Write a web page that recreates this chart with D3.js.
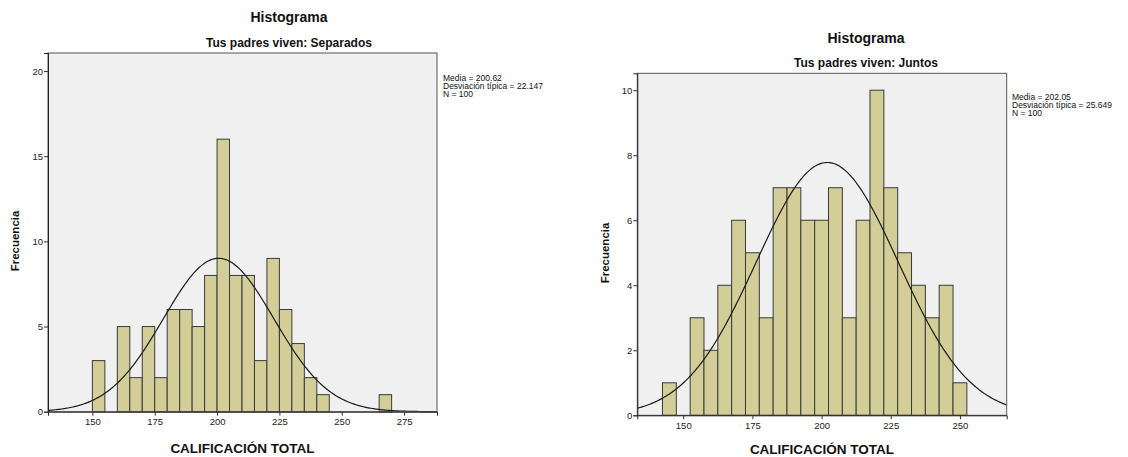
<!DOCTYPE html>
<html lang="es">
<head>
<meta charset="UTF-8">
<title>Histogramas - Calificación total</title>
<script src="https://cdn.jsdelivr.net/npm/d3@7"></script>
<style>
  body { margin: 0; background: #fff; }
  svg { display: block; font-family: "Liberation Sans", Arial, sans-serif; }
  .tick text { font-size: 9.5px; fill: #222; }
  .tick line { stroke: #333; }
</style>
</head>
<body>
<div id="chart"></div>
<script>
// Tus padres viven: Separados (bins de 5, borde inferior)
var sepBins   = [150,155,160,165,170,175,180,185,190,195,200,205,210,215,220,225,230,235,240,245,250,255,260,265];
var sepCounts = [3,  0,  5,  2,  5,  2,  6,  6,  5,  8,  16, 8,  8,  3,  9,  6,  4,  2,  1,  0,  0,  0,  0,  1];
var sepStats  = { media: 200.62, sd: 22.147, n: 100 };
var sepXTicks = [150,175,200,225,250,275];
var sepYTicks = [0,5,10,15,20];

// Tus padres viven: Juntos (bins de 5 centrados en múltiplos de 5)
var junBins   = [142.5,147.5,152.5,157.5,162.5,167.5,172.5,177.5,182.5,187.5,192.5,197.5,202.5,207.5,212.5,217.5,222.5,227.5,232.5,237.5,242.5,247.5];
var junCounts = [1,    0,    3,    2,    4,    6,    5,    3,    7,    7,    6,    6,    7,    3,    6,    10,   7,    5,    4,    3,    4,    1];
var junStats  = { media: 202.05, sd: 25.649, n: 100 };
var junXTicks = [150,175,200,225,250];
var junYTicks = [0,2,4,6,8,10];

var binWidth = 5;

var W = 1128, H = 457;
var svg = d3.select("#chart").append("svg").attr("width", W).attr("height", H);

var panels = [
  { sub: "Tus padres viven: Separados", bins: sepBins, counts: sepCounts, stats: sepStats,
    xt: sepXTicks, yt: sepYTicks, xdom: [132.2, 288.2], ydom: [0, 21.06],
    left: 48, top: 53, right: 437, bottom: 411.7,
    titleX: 289, titleY: 22, subY: 47, legX: 443, legY: 81, ylabX: 19, ylabY: 241, xlabY: 453 },
  { sub: "Tus padres viven: Juntos", bins: junBins, counts: junCounts, stats: junStats,
    xt: junXTicks, yt: junYTicks, xdom: [133.4, 266.9], ydom: [0, 10.52],
    left: 637.3, top: 73.3, right: 1006.7, bottom: 415.3,
    titleX: 866, titleY: 43, subY: 67, legX: 1012, legY: 100, ylabX: 609, ylabY: 253, xlabY: 454 }
];

panels.forEach(function(p) {
  var x = d3.scaleLinear().domain(p.xdom).range([p.left, p.right]);
  var y = d3.scaleLinear().domain(p.ydom).range([p.bottom, p.top]);
  var g = svg.append("g");

  // fondo del área de trazado
  g.append("rect")
    .attr("x", p.left).attr("y", p.top)
    .attr("width", p.right - p.left).attr("height", p.bottom - p.top)
    .attr("fill", "#f0f0f0");

  // barras
  g.append("g").selectAll("rect")
    .data(p.bins.map(function(b, i) { return { x0: b, x1: b + binWidth, n: p.counts[i] }; })
      .filter(function(d) { return d.n > 0; }))
    .enter().append("rect")
    .attr("x", function(d) { return x(d.x0); })
    .attr("y", function(d) { return y(d.n); })
    .attr("width", function(d) { return x(d.x1) - x(d.x0); })
    .attr("height", function(d) { return y(0) - y(d.n); })
    .attr("fill", "#d3ce97")
    .attr("stroke", "#3a3a3a")
    .attr("stroke-width", 1);

  // curva normal
  var k = p.stats.n * binWidth / (p.stats.sd * Math.sqrt(2 * Math.PI));
  var pts = d3.range(p.xdom[0], p.xdom[1] + 0.25, 0.5).map(function(v) {
    var z = (v - p.stats.media) / p.stats.sd;
    return [x(v), y(k * Math.exp(-0.5 * z * z))];
  });
  g.append("path")
    .attr("d", d3.line()(pts))
    .attr("fill", "none")
    .attr("stroke", "#1a1a1a")
    .attr("stroke-width", 1.2);

  // marco
  g.append("rect")
    .attr("x", p.left).attr("y", p.top)
    .attr("width", p.right - p.left).attr("height", p.bottom - p.top)
    .attr("fill", "none").attr("stroke", "#555").attr("stroke-width", 1);

  // ejes
  var ax = g.append("g").attr("transform", "translate(0," + p.bottom + ")")
    .call(d3.axisBottom(x).tickValues(p.xt).tickSize(4).tickPadding(3));
  ax.select(".domain").attr("stroke", "#222");
  var ay = g.append("g").attr("transform", "translate(" + p.left + ",0)")
    .call(d3.axisLeft(y).tickValues(p.yt).tickSize(4).tickPadding(1));
  ay.select(".domain").attr("stroke", "#222");

  // títulos
  g.append("text").attr("x", p.titleX).attr("y", p.titleY)
    .attr("text-anchor", "middle").attr("font-size", 14).attr("font-weight", "bold")
    .attr("fill", "#111").text("Histograma");
  g.append("text").attr("x", p.titleX).attr("y", p.subY)
    .attr("text-anchor", "middle").attr("font-size", 12).attr("font-weight", "bold")
    .attr("fill", "#111").text(p.sub);

  g.append("text").attr("x", (p.left + p.right) / 2).attr("y", p.xlabY)
    .attr("text-anchor", "middle").attr("font-size", 13.5).attr("font-weight", "bold")
    .attr("fill", "#111").text("CALIFICACIÓN TOTAL");
  g.append("text")
    .attr("transform", "translate(" + p.ylabX + "," + p.ylabY + ") rotate(-90)")
    .attr("text-anchor", "middle").attr("font-size", 11.5).attr("font-weight", "bold")
    .attr("fill", "#111").text("Frecuencia");

  // leyenda
  var leg = [
    "Media = " + p.stats.media.toFixed(2),
    "Desviación típica = " + p.stats.sd.toFixed(3),
    "N = " + p.stats.n
  ];
  g.append("g").selectAll("text").data(leg).enter().append("text")
    .attr("x", p.legX)
    .attr("y", function(d, i) { return p.legY + i * 8; })
    .attr("font-size", 8.5).attr("fill", "#111")
    .text(function(d) { return d; });
});
</script>
</body>
</html>
